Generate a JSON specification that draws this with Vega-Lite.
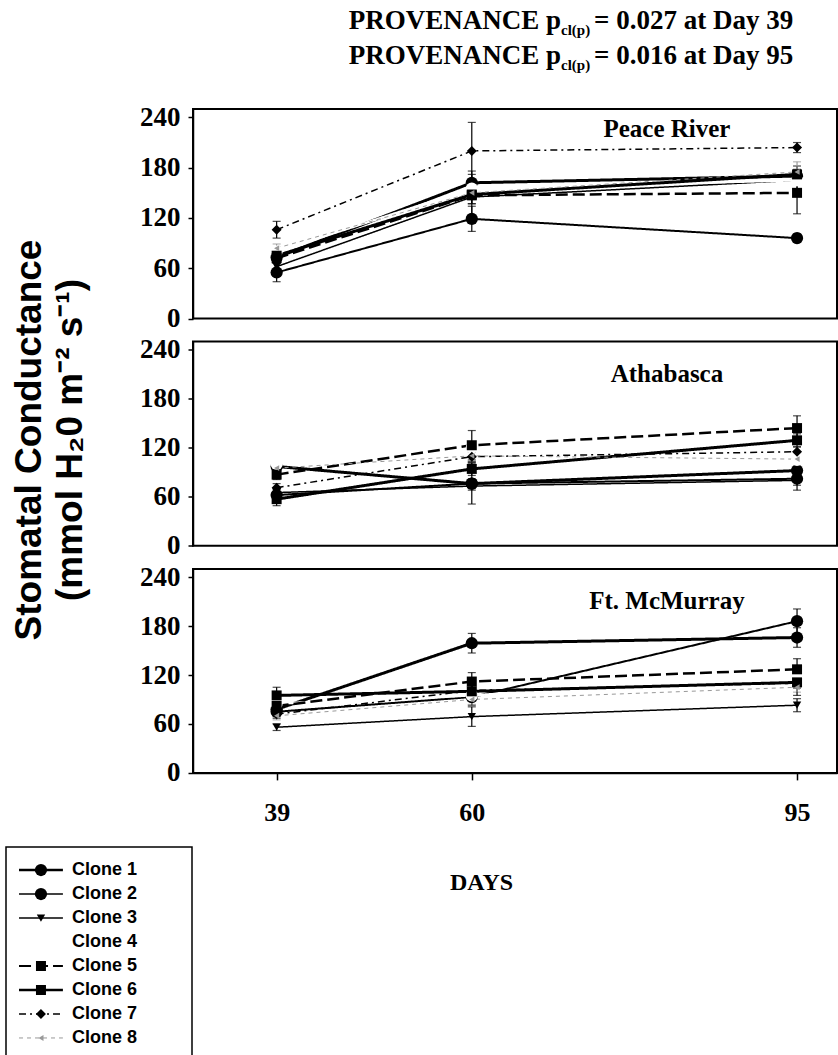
{
  "$schema": "https://vega.github.io/schema/vega-lite/v6.json",
  "background": "white",
  "padding": {"left": 5, "top": 6, "right": 0, "bottom": 0},
  "config": {
    "view": {"stroke": "black", "strokeWidth": 2},
    "axis": {"grid": false, "labelFont": "Liberation Serif", "labelFontWeight": "bold", "labelColor": "black", "tickColor": "black", "domainColor": "black", "titleColor": "black", "domainWidth": 1.5, "tickWidth": 1.5}
  },
  "datasets": {
    "pts": [
      {"site": "Peace River", "clone": "Clone 1", "day": 39, "v": 73, "err": 6},
      {"site": "Peace River", "clone": "Clone 1", "day": 60, "v": 162, "err": 10},
      {"site": "Peace River", "clone": "Clone 1", "day": 95, "v": 170, "err": 8},
      {"site": "Peace River", "clone": "Clone 2", "day": 39, "v": 55, "err": 11},
      {"site": "Peace River", "clone": "Clone 2", "day": 60, "v": 119, "err": 15},
      {"site": "Peace River", "clone": "Clone 2", "day": 95, "v": 96, "err": 5},
      {"site": "Peace River", "clone": "Clone 3", "day": 39, "v": 62, "err": 6},
      {"site": "Peace River", "clone": "Clone 3", "day": 60, "v": 145, "err": 8},
      {"site": "Peace River", "clone": "Clone 3", "day": 95, "v": 165, "err": 10},
      {"site": "Peace River", "clone": "Clone 4", "day": 39, "v": 80, "err": 5},
      {"site": "Peace River", "clone": "Clone 4", "day": 60, "v": 155, "err": 8},
      {"site": "Peace River", "clone": "Clone 4", "day": 95, "v": 165, "err": 6},
      {"site": "Peace River", "clone": "Clone 5", "day": 39, "v": 72, "err": 6},
      {"site": "Peace River", "clone": "Clone 5", "day": 60, "v": 147, "err": 10},
      {"site": "Peace River", "clone": "Clone 5", "day": 95, "v": 150, "err": 25},
      {"site": "Peace River", "clone": "Clone 6", "day": 39, "v": 75, "err": 5},
      {"site": "Peace River", "clone": "Clone 6", "day": 60, "v": 148, "err": 28},
      {"site": "Peace River", "clone": "Clone 6", "day": 95, "v": 172, "err": 10},
      {"site": "Peace River", "clone": "Clone 7", "day": 39, "v": 106, "err": 10},
      {"site": "Peace River", "clone": "Clone 7", "day": 60, "v": 200, "err": 34},
      {"site": "Peace River", "clone": "Clone 7", "day": 95, "v": 204, "err": 6},
      {"site": "Peace River", "clone": "Clone 8", "day": 39, "v": 84, "err": 5},
      {"site": "Peace River", "clone": "Clone 8", "day": 60, "v": 150, "err": 8},
      {"site": "Peace River", "clone": "Clone 8", "day": 95, "v": 175, "err": 12},
      {"site": "Athabasca", "clone": "Clone 1", "day": 39, "v": 97, "err": 6},
      {"site": "Athabasca", "clone": "Clone 1", "day": 60, "v": 76, "err": 25},
      {"site": "Athabasca", "clone": "Clone 1", "day": 95, "v": 92, "err": 8},
      {"site": "Athabasca", "clone": "Clone 2", "day": 39, "v": 62, "err": 8},
      {"site": "Athabasca", "clone": "Clone 2", "day": 60, "v": 76, "err": 6},
      {"site": "Athabasca", "clone": "Clone 2", "day": 95, "v": 82, "err": 14},
      {"site": "Athabasca", "clone": "Clone 3", "day": 39, "v": 65, "err": 5},
      {"site": "Athabasca", "clone": "Clone 3", "day": 60, "v": 73, "err": 5},
      {"site": "Athabasca", "clone": "Clone 3", "day": 95, "v": 80, "err": 6},
      {"site": "Athabasca", "clone": "Clone 4", "day": 39, "v": 100, "err": 5},
      {"site": "Athabasca", "clone": "Clone 4", "day": 60, "v": 120, "err": 6},
      {"site": "Athabasca", "clone": "Clone 4", "day": 95, "v": 105, "err": 5},
      {"site": "Athabasca", "clone": "Clone 5", "day": 39, "v": 87, "err": 6},
      {"site": "Athabasca", "clone": "Clone 5", "day": 60, "v": 123, "err": 18},
      {"site": "Athabasca", "clone": "Clone 5", "day": 95, "v": 144, "err": 15},
      {"site": "Athabasca", "clone": "Clone 6", "day": 39, "v": 57, "err": 8},
      {"site": "Athabasca", "clone": "Clone 6", "day": 60, "v": 94, "err": 8},
      {"site": "Athabasca", "clone": "Clone 6", "day": 95, "v": 129, "err": 8},
      {"site": "Athabasca", "clone": "Clone 7", "day": 39, "v": 71, "err": 5},
      {"site": "Athabasca", "clone": "Clone 7", "day": 60, "v": 109, "err": 6},
      {"site": "Athabasca", "clone": "Clone 7", "day": 95, "v": 115, "err": 6},
      {"site": "Athabasca", "clone": "Clone 8", "day": 39, "v": 95, "err": 6},
      {"site": "Athabasca", "clone": "Clone 8", "day": 60, "v": 110, "err": 6},
      {"site": "Athabasca", "clone": "Clone 8", "day": 95, "v": 106, "err": 8},
      {"site": "Ft. McMurray", "clone": "Clone 1", "day": 39, "v": 78, "err": 8},
      {"site": "Ft. McMurray", "clone": "Clone 1", "day": 60, "v": 159, "err": 12},
      {"site": "Ft. McMurray", "clone": "Clone 1", "day": 95, "v": 166, "err": 12},
      {"site": "Ft. McMurray", "clone": "Clone 2", "day": 39, "v": 75, "err": 6},
      {"site": "Ft. McMurray", "clone": "Clone 2", "day": 60, "v": 93, "err": 10},
      {"site": "Ft. McMurray", "clone": "Clone 2", "day": 95, "v": 186, "err": 15},
      {"site": "Ft. McMurray", "clone": "Clone 3", "day": 39, "v": 56, "err": 4},
      {"site": "Ft. McMurray", "clone": "Clone 3", "day": 60, "v": 69, "err": 12},
      {"site": "Ft. McMurray", "clone": "Clone 3", "day": 95, "v": 83, "err": 8},
      {"site": "Ft. McMurray", "clone": "Clone 4", "day": 39, "v": 85, "err": 5},
      {"site": "Ft. McMurray", "clone": "Clone 4", "day": 60, "v": 95, "err": 5},
      {"site": "Ft. McMurray", "clone": "Clone 4", "day": 95, "v": 120, "err": 5},
      {"site": "Ft. McMurray", "clone": "Clone 5", "day": 39, "v": 82, "err": 6},
      {"site": "Ft. McMurray", "clone": "Clone 5", "day": 60, "v": 112, "err": 11},
      {"site": "Ft. McMurray", "clone": "Clone 5", "day": 95, "v": 127, "err": 13},
      {"site": "Ft. McMurray", "clone": "Clone 6", "day": 39, "v": 95, "err": 10},
      {"site": "Ft. McMurray", "clone": "Clone 6", "day": 60, "v": 100, "err": 8},
      {"site": "Ft. McMurray", "clone": "Clone 6", "day": 95, "v": 111, "err": 16},
      {"site": "Ft. McMurray", "clone": "Clone 7", "day": 39, "v": 72, "err": 5},
      {"site": "Ft. McMurray", "clone": "Clone 7", "day": 60, "v": 101, "err": 6},
      {"site": "Ft. McMurray", "clone": "Clone 7", "day": 95, "v": 110, "err": 6},
      {"site": "Ft. McMurray", "clone": "Clone 8", "day": 39, "v": 70, "err": 5},
      {"site": "Ft. McMurray", "clone": "Clone 8", "day": 60, "v": 90, "err": 6},
      {"site": "Ft. McMurray", "clone": "Clone 8", "day": 95, "v": 105, "err": 6}
    ],
    "leg": [
      {"clone": "Clone 1"}, {"clone": "Clone 2"}, {"clone": "Clone 3"}, {"clone": "Clone 4"},
      {"clone": "Clone 5"}, {"clone": "Clone 6"}, {"clone": "Clone 7"}, {"clone": "Clone 8"}
    ]
  },
  "hconcat": [
    {
      "vconcat": [
        {
          "width": 100, "height": 662,
          "view": {"stroke": null},
          "data": {"values": [{}]},
          "mark": {"type": "text", "angle": 270, "align": "center", "baseline": "middle", "font": "Liberation Sans", "fontWeight": "bold", "fontSize": 37, "lineHeight": 41, "color": "black"},
          "encoding": {
            "x": {"datum": 0.235, "type": "quantitative", "scale": {"domain": [0, 1]}, "axis": null},
            "y": {"datum": 0.5, "type": "quantitative", "scale": {"domain": [0, 1]}, "axis": null},
            "text": {"value": ["Stomatal Conductance", "(mmol H₂0 m⁻² s⁻¹)"]}
          }
        },
        {
          "width": 186, "height": 214,
          "data": {"name": "leg"},
          "view": {"stroke": "black", "strokeWidth": 1.5},
          "encoding": {
            "y": {"field": "clone", "type": "nominal", "scale": {"type": "point", "padding": 0.96, "domain": ["Clone 1","Clone 2","Clone 3","Clone 4","Clone 5","Clone 6","Clone 7","Clone 8"]}, "axis": null}
          },
          "layer": [
            {"mark": {"type": "rule"}, "encoding": {
              "x": {"datum": 0.07, "scale": {"domain": [0, 1], "nice": false, "zero": false}, "axis": null},
              "x2": {"datum": 0.306},
              "color": {"field": "clone", "type": "nominal", "scale": {"domain": ["Clone 1","Clone 2","Clone 3","Clone 4","Clone 5","Clone 6","Clone 7","Clone 8"], "range": ["#000000","#000000","#000000","#ffffff","#000000","#000000","#000000","#999999"]}, "legend": null},
              "strokeDash": {"field": "clone", "type": "nominal", "scale": {"domain": ["Clone 1","Clone 2","Clone 3","Clone 4","Clone 5","Clone 6","Clone 7","Clone 8"], "range": [[1,0],[1,0],[1,0],[1,0],[12,5],[1,0],[7,4,2,4],[4,4]]}, "legend": null},
              "strokeWidth": {"condition": [{"test": "datum.clone === 'Clone 1' || datum.clone === 'Clone 6'", "value": 2.5}, {"test": "datum.clone === 'Clone 5'", "value": 2}, {"test": "datum.clone === 'Clone 8'", "value": 1}], "value": 1.5}
            }},
            {"mark": {"type": "point", "filled": true, "opacity": 1}, "encoding": {
              "x": {"datum": 0.188},
              "color": {"field": "clone", "type": "nominal", "legend": null},
              "shape": {"field": "clone", "type": "nominal", "scale": {"domain": ["Clone 1","Clone 2","Clone 3","Clone 4","Clone 5","Clone 6","Clone 7","Clone 8"], "range": ["circle","circle","triangle-down","circle","square","square","diamond","triangle-left"]}, "legend": null},
              "size": {"condition": [{"test": "datum.clone === 'Clone 1' || datum.clone === 'Clone 2' || datum.clone === 'Clone 4'", "value": 150}, {"test": "datum.clone === 'Clone 5' || datum.clone === 'Clone 6' || datum.clone === 'Clone 7'", "value": 100}, {"test": "datum.clone === 'Clone 3'", "value": 70}], "value": 35}
            }},
            {"mark": {"type": "text", "align": "left", "baseline": "middle", "font": "Liberation Sans", "fontWeight": "bold", "fontSize": 18, "color": "black"}, "encoding": {
              "x": {"datum": 0.355},
              "text": {"field": "clone"}
            }}
          ]
        }
      ],
      "spacing": 75,
      "bounds": "full"
    },
    {
      "vconcat": [
        {
          "width": 644, "height": 209.6,
          "data": {"name": "pts"},
          "transform": [{"filter": "datum.site === 'Peace River'"}],
          "layer": [
            {"mark": {"type": "errorbar", "ticks": {"size": 8}, "thickness": 1.2}, "encoding": {
              "x": {"field": "day", "type": "quantitative", "scale": {"domain": [30, 99.3], "nice": false, "zero": false}, "axis": null},
              "y": {"field": "v", "type": "quantitative", "scale": {"domain": [0, 250], "nice": false, "zero": false}, "axis": {"values": [0, 60, 120, 180, 240], "labelFontSize": 27, "tickSize": 5, "labelPadding": 8, "title": null}},
              "yError": {"field": "err"},
              "color": {"field": "clone", "type": "nominal", "legend": null}}},
            {"mark": {"type": "line"}, "encoding": {
              "x": {"field": "day", "type": "quantitative", "scale": {"domain": [30, 99.3], "nice": false, "zero": false}, "axis": null},
              "y": {"field": "v", "type": "quantitative", "scale": {"domain": [0, 250], "nice": false, "zero": false}, "axis": {"values": [0, 60, 120, 180, 240], "labelFontSize": 27, "tickSize": 5, "labelPadding": 8, "title": null}},
              "color": {"field": "clone", "type": "nominal", "legend": null},
              "strokeDash": {"field": "clone", "type": "nominal", "legend": null},
              "strokeWidth": {"condition": [{"test": "datum.clone === 'Clone 1' || datum.clone === 'Clone 6'", "value": 3}, {"test": "datum.clone === 'Clone 4' || datum.clone === 'Clone 5'", "value": 2.5}, {"test": "datum.clone === 'Clone 2'", "value": 2}, {"test": "datum.clone === 'Clone 8'", "value": 1}], "value": 1.5}
            }},
            {"mark": {"type": "point", "filled": true, "opacity": 1}, "encoding": {
              "x": {"field": "day", "type": "quantitative", "scale": {"domain": [30, 99.3], "nice": false, "zero": false}, "axis": null},
              "y": {"field": "v", "type": "quantitative", "scale": {"domain": [0, 250], "nice": false, "zero": false}, "axis": {"values": [0, 60, 120, 180, 240], "labelFontSize": 27, "tickSize": 5, "labelPadding": 8, "title": null}},
              "color": {"field": "clone", "type": "nominal", "legend": null},
              "shape": {"field": "clone", "type": "nominal", "legend": null},
              "size": {"condition": [{"test": "datum.clone === 'Clone 1' || datum.clone === 'Clone 2' || datum.clone === 'Clone 4'", "value": 150}, {"test": "datum.clone === 'Clone 5' || datum.clone === 'Clone 6' || datum.clone === 'Clone 7'", "value": 100}, {"test": "datum.clone === 'Clone 3'", "value": 70}], "value": 35}
            }},
            {"data": {"values": [{}]}, "mark": {"type": "text", "font": "Liberation Serif", "fontWeight": "bold", "fontSize": 25, "baseline": "middle", "color": "black"}, "encoding": {"x": {"datum": 81, "axis": null}, "y": {"datum": 226, "axis": {"values": [0, 60, 120, 180, 240], "labelFontSize": 27, "tickSize": 5, "labelPadding": 8, "title": null}}, "text": {"value": "Peace River"}}},
            {"data": {"values": [{}]}, "mark": {"type": "text", "font": "Liberation Serif", "fontWeight": "bold", "fontSize": 27, "baseline": "alphabetic", "align": "right", "lineHeight": 35, "color": "black"}, "encoding": {"x": {"datum": 69.6, "axis": null}, "y": {"datum": 345, "axis": {"values": [0, 60, 120, 180, 240], "labelFontSize": 27, "tickSize": 5, "labelPadding": 8, "title": null}}, "text": {"value": ["PROVENANCE p", "PROVENANCE p"]}}},
            {"data": {"values": [{}]}, "mark": {"type": "text", "font": "Liberation Serif", "fontWeight": "bold", "fontSize": 15, "baseline": "alphabetic", "align": "left", "lineHeight": 35, "dy": 6, "color": "black"}, "encoding": {"x": {"datum": 69.6, "axis": null}, "y": {"datum": 345, "axis": {"values": [0, 60, 120, 180, 240], "labelFontSize": 27, "tickSize": 5, "labelPadding": 8, "title": null}}, "text": {"value": ["cl(p)", "cl(p)"]}}},
            {"data": {"values": [{}]}, "mark": {"type": "text", "font": "Liberation Serif", "fontWeight": "bold", "fontSize": 27, "baseline": "alphabetic", "align": "left", "lineHeight": 35, "dx": 33, "color": "black"}, "encoding": {"x": {"datum": 69.6, "axis": null}, "y": {"datum": 345, "axis": {"values": [0, 60, 120, 180, 240], "labelFontSize": 27, "tickSize": 5, "labelPadding": 8, "title": null}}, "text": {"value": ["= 0.027 at Day 39", "= 0.016 at Day 95"]}}}
          ]
        },
        {
          "width": 644, "height": 204.2,
          "data": {"name": "pts"},
          "transform": [{"filter": "datum.site === 'Athabasca'"}],
          "layer": [
            {"mark": {"type": "errorbar", "ticks": {"size": 8}, "thickness": 1.2}, "encoding": {
              "x": {"field": "day", "type": "quantitative", "scale": {"domain": [30, 99.3], "nice": false, "zero": false}, "axis": null},
              "y": {"field": "v", "type": "quantitative", "scale": {"domain": [0, 250], "nice": false, "zero": false}, "axis": {"values": [0, 60, 120, 180, 240], "labelFontSize": 27, "tickSize": 5, "labelPadding": 8, "title": null}},
              "yError": {"field": "err"},
              "color": {"field": "clone", "type": "nominal", "legend": null}}},
            {"mark": {"type": "line"}, "encoding": {
              "x": {"field": "day", "type": "quantitative", "scale": {"domain": [30, 99.3], "nice": false, "zero": false}, "axis": null},
              "y": {"field": "v", "type": "quantitative", "scale": {"domain": [0, 250], "nice": false, "zero": false}, "axis": {"values": [0, 60, 120, 180, 240], "labelFontSize": 27, "tickSize": 5, "labelPadding": 8, "title": null}},
              "color": {"field": "clone", "type": "nominal", "legend": null},
              "strokeDash": {"field": "clone", "type": "nominal", "legend": null},
              "strokeWidth": {"condition": [{"test": "datum.clone === 'Clone 1' || datum.clone === 'Clone 6'", "value": 3}, {"test": "datum.clone === 'Clone 4' || datum.clone === 'Clone 5'", "value": 2.5}, {"test": "datum.clone === 'Clone 2'", "value": 2}, {"test": "datum.clone === 'Clone 8'", "value": 1}], "value": 1.5}
            }},
            {"mark": {"type": "point", "filled": true, "opacity": 1}, "encoding": {
              "x": {"field": "day", "type": "quantitative", "scale": {"domain": [30, 99.3], "nice": false, "zero": false}, "axis": null},
              "y": {"field": "v", "type": "quantitative", "scale": {"domain": [0, 250], "nice": false, "zero": false}, "axis": {"values": [0, 60, 120, 180, 240], "labelFontSize": 27, "tickSize": 5, "labelPadding": 8, "title": null}},
              "color": {"field": "clone", "type": "nominal", "legend": null},
              "shape": {"field": "clone", "type": "nominal", "legend": null},
              "size": {"condition": [{"test": "datum.clone === 'Clone 1' || datum.clone === 'Clone 2' || datum.clone === 'Clone 4'", "value": 150}, {"test": "datum.clone === 'Clone 5' || datum.clone === 'Clone 6' || datum.clone === 'Clone 7'", "value": 100}, {"test": "datum.clone === 'Clone 3'", "value": 70}], "value": 35}
            }},
            {"data": {"values": [{}]}, "mark": {"type": "text", "font": "Liberation Serif", "fontWeight": "bold", "fontSize": 25, "baseline": "middle", "color": "black"}, "encoding": {"x": {"datum": 81, "axis": null}, "y": {"datum": 210, "axis": {"values": [0, 60, 120, 180, 240], "labelFontSize": 27, "tickSize": 5, "labelPadding": 8, "title": null}}, "text": {"value": "Athabasca"}}}
          ]
        },
        {
          "width": 644, "height": 203.9,
          "data": {"name": "pts"},
          "transform": [{"filter": "datum.site === 'Ft. McMurray'"}],
          "layer": [
            {"mark": {"type": "errorbar", "ticks": {"size": 8}, "thickness": 1.2}, "encoding": {
              "x": {"field": "day", "type": "quantitative", "scale": {"domain": [30, 99.3], "nice": false, "zero": false}, "axis": {"values": [39, 60, 95], "labelFontSize": 26, "tickSize": 7, "labelPadding": 20, "labelFlush": false, "title": "DAYS", "titleFont": "Liberation Serif", "titleFontWeight": "bold", "titleFontSize": 24, "titlePadding": 45, "titleX": 288}},
              "y": {"field": "v", "type": "quantitative", "scale": {"domain": [0, 250], "nice": false, "zero": false}, "axis": {"values": [0, 60, 120, 180, 240], "labelFontSize": 27, "tickSize": 5, "labelPadding": 8, "title": null}},
              "yError": {"field": "err"},
              "color": {"field": "clone", "type": "nominal", "legend": null}}},
            {"mark": {"type": "line"}, "encoding": {
              "x": {"field": "day", "type": "quantitative", "scale": {"domain": [30, 99.3], "nice": false, "zero": false}, "axis": {"values": [39, 60, 95], "labelFontSize": 26, "tickSize": 7, "labelPadding": 20, "labelFlush": false, "title": "DAYS", "titleFont": "Liberation Serif", "titleFontWeight": "bold", "titleFontSize": 24, "titlePadding": 45, "titleX": 288}},
              "y": {"field": "v", "type": "quantitative", "scale": {"domain": [0, 250], "nice": false, "zero": false}, "axis": {"values": [0, 60, 120, 180, 240], "labelFontSize": 27, "tickSize": 5, "labelPadding": 8, "title": null}},
              "color": {"field": "clone", "type": "nominal", "legend": null},
              "strokeDash": {"field": "clone", "type": "nominal", "legend": null},
              "strokeWidth": {"condition": [{"test": "datum.clone === 'Clone 1' || datum.clone === 'Clone 6'", "value": 3}, {"test": "datum.clone === 'Clone 4' || datum.clone === 'Clone 5'", "value": 2.5}, {"test": "datum.clone === 'Clone 2'", "value": 2}, {"test": "datum.clone === 'Clone 8'", "value": 1}], "value": 1.5}
            }},
            {"mark": {"type": "point", "filled": true, "opacity": 1}, "encoding": {
              "x": {"field": "day", "type": "quantitative", "scale": {"domain": [30, 99.3], "nice": false, "zero": false}, "axis": {"values": [39, 60, 95], "labelFontSize": 26, "tickSize": 7, "labelPadding": 20, "labelFlush": false, "title": "DAYS", "titleFont": "Liberation Serif", "titleFontWeight": "bold", "titleFontSize": 24, "titlePadding": 45, "titleX": 288}},
              "y": {"field": "v", "type": "quantitative", "scale": {"domain": [0, 250], "nice": false, "zero": false}, "axis": {"values": [0, 60, 120, 180, 240], "labelFontSize": 27, "tickSize": 5, "labelPadding": 8, "title": null}},
              "color": {"field": "clone", "type": "nominal", "legend": null},
              "shape": {"field": "clone", "type": "nominal", "legend": null},
              "size": {"condition": [{"test": "datum.clone === 'Clone 1' || datum.clone === 'Clone 2' || datum.clone === 'Clone 4'", "value": 150}, {"test": "datum.clone === 'Clone 5' || datum.clone === 'Clone 6' || datum.clone === 'Clone 7'", "value": 100}, {"test": "datum.clone === 'Clone 3'", "value": 70}], "value": 35}
            }},
            {"data": {"values": [{}]}, "mark": {"type": "text", "font": "Liberation Serif", "fontWeight": "bold", "fontSize": 25, "baseline": "middle", "color": "black"}, "encoding": {"x": {"datum": 81, "axis": {"values": [39, 60, 95], "labelFontSize": 26, "tickSize": 7, "labelPadding": 20, "labelFlush": false, "title": "DAYS", "titleFont": "Liberation Serif", "titleFontWeight": "bold", "titleFontSize": 24, "titlePadding": 45, "titleX": 288}}, "y": {"datum": 211, "axis": {"values": [0, 60, 120, 180, 240], "labelFontSize": 27, "tickSize": 5, "labelPadding": 8, "title": null}}, "text": {"value": "Ft. McMurray"}}}
          ]
        }
      ],
      "spacing": 22.5,
      "bounds": "flush"
    }
  ],
  "spacing": -60,
  "bounds": "full"
}
